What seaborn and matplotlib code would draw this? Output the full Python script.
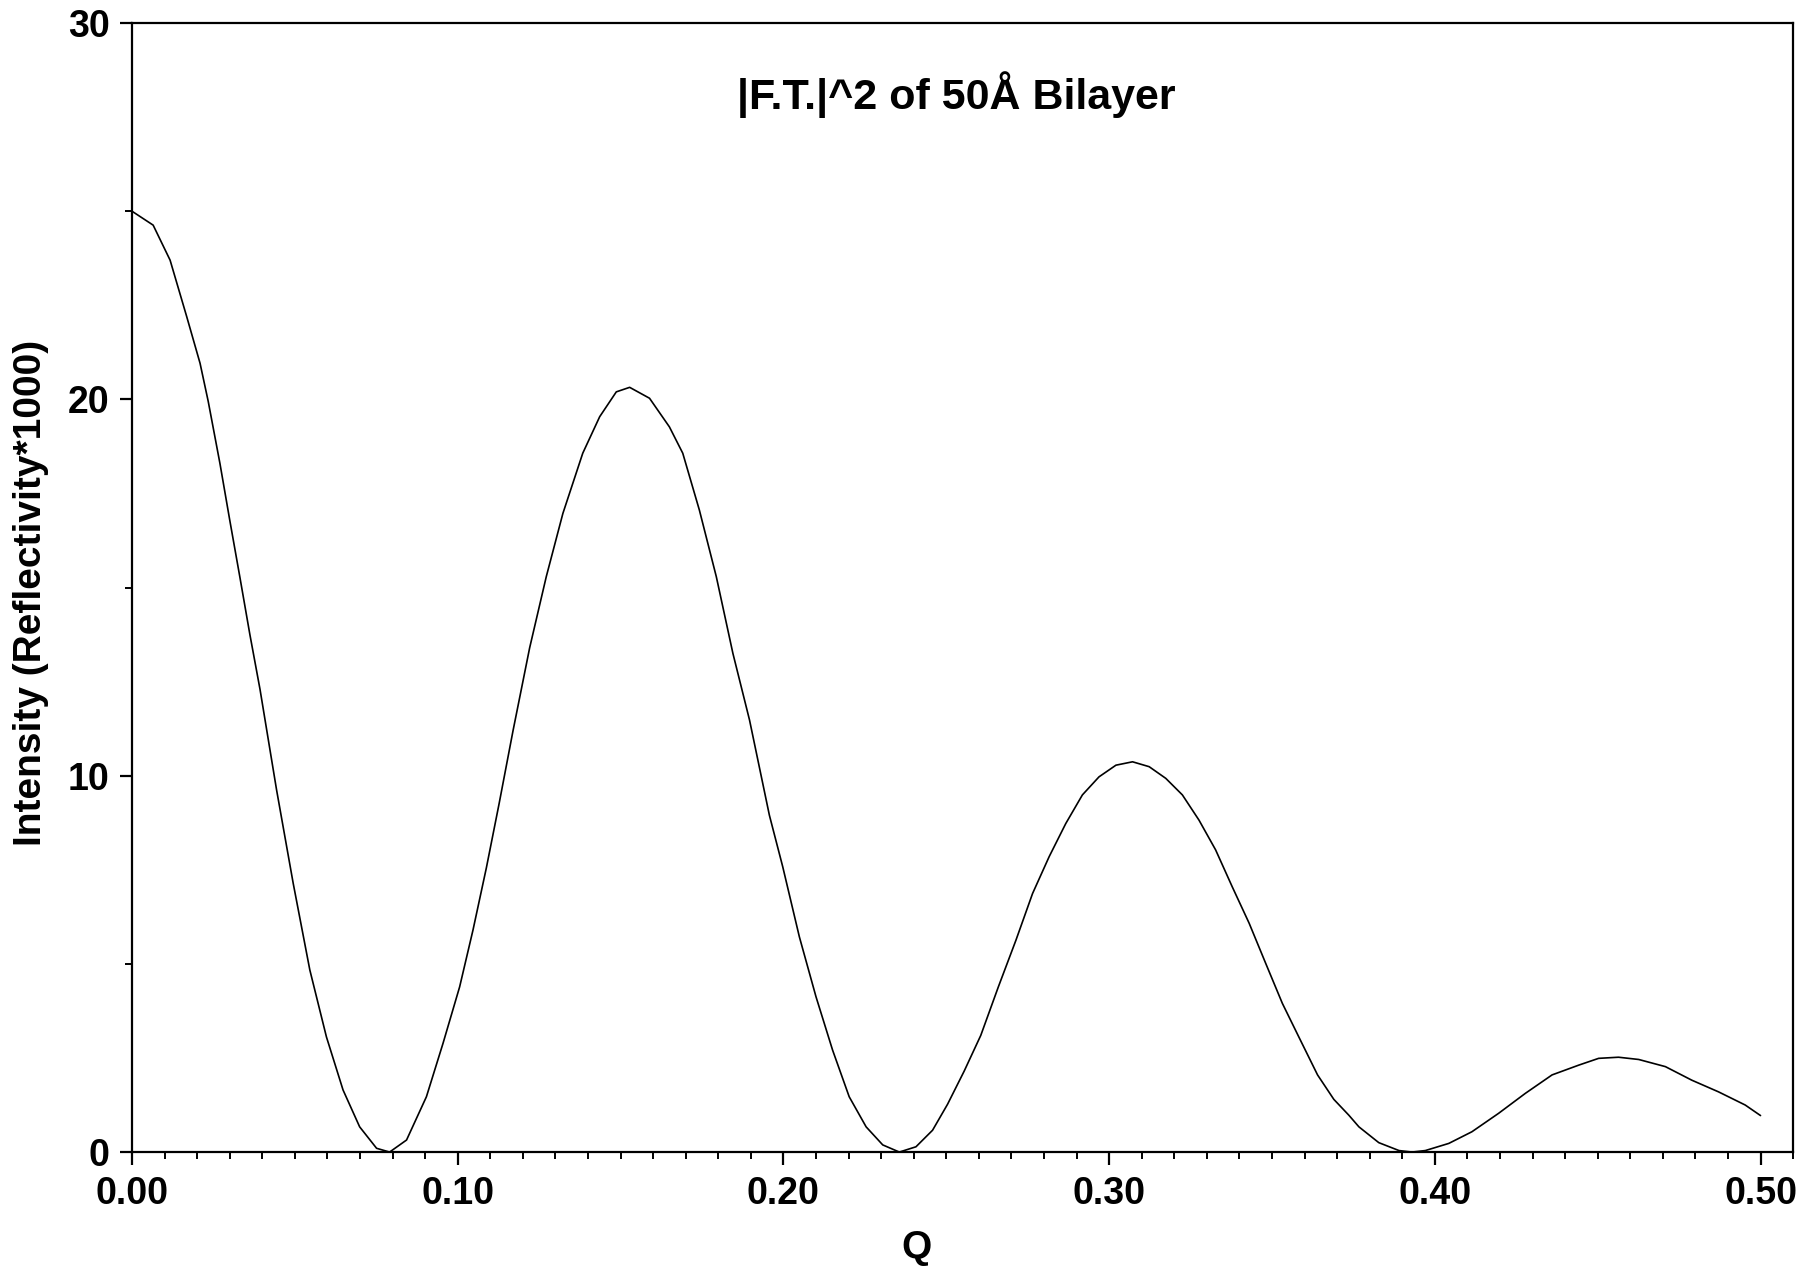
"""|F.T.|^2 of a 50A bilayer, redrawn with seaborn."""

import matplotlib
matplotlib.use("Agg")
import matplotlib.pyplot as plt
import pandas as pd
import seaborn as sns
from matplotlib.ticker import MultipleLocator, FormatStrFormatter

# values
q_values = [
    0.0000, 0.0065, 0.0117, 0.0168, 0.0209, 0.0234, 0.0270, 0.0300, 0.0331,
    0.0362, 0.0393, 0.0444, 0.0495, 0.0546, 0.0597, 0.0648, 0.0699, 0.0751,
    0.0791, 0.0843, 0.0904, 0.0955, 0.1006, 0.1047, 0.1088, 0.1127, 0.1170,
    0.1221, 0.1272, 0.1323, 0.1384, 0.1436, 0.1487, 0.1528, 0.1589, 0.1650,
    0.1691, 0.1742, 0.1794, 0.1845, 0.1896, 0.1957, 0.1998, 0.2049, 0.2100,
    0.2151, 0.2202, 0.2254, 0.2305, 0.2356, 0.2407, 0.2458, 0.2504, 0.2555,
    0.2606, 0.2660, 0.2714, 0.2765, 0.2816, 0.2867, 0.2918, 0.2969, 0.3021,
    0.3072, 0.3123, 0.3174, 0.3225, 0.3276, 0.3327, 0.3378, 0.3430, 0.3481,
    0.3532, 0.3583, 0.3640, 0.3690, 0.3736, 0.3767, 0.3828, 0.3890, 0.3930,
    0.3971, 0.4043, 0.4114, 0.4196, 0.4278, 0.4360, 0.4442, 0.4503, 0.4564,
    0.4626, 0.4708, 0.4789, 0.4871, 0.4953, 0.5000,
]
intensity = [
    25.00, 24.63, 23.70, 22.20, 20.96, 19.95, 18.30, 16.80, 15.29,
    13.75, 12.30, 9.62, 7.14, 4.84, 3.06, 1.65, 0.67, 0.10,
    0.00, 0.32, 1.47, 2.89, 4.39, 5.90, 7.55, 9.25, 11.20,
    13.40, 15.29, 16.97, 18.57, 19.54, 20.20, 20.32, 20.03, 19.27,
    18.57, 17.06, 15.29, 13.25, 11.48, 8.95, 7.58, 5.72, 4.13,
    2.71, 1.47, 0.67, 0.19, 0.00, 0.14, 0.58, 1.27, 2.15,
    3.10, 4.39, 5.63, 6.87, 7.85, 8.73, 9.49, 9.97, 10.28,
    10.37, 10.24, 9.93, 9.49, 8.82, 8.03, 7.05, 6.08, 5.01,
    3.95, 3.05, 2.05, 1.40, 0.98, 0.67, 0.25, 0.04, 0.00,
    0.04, 0.23, 0.54, 1.03, 1.56, 2.05, 2.31, 2.49, 2.52,
    2.46, 2.27, 1.91, 1.60, 1.25, 0.97,
]

title = "|F.T.|^2 of 50Å Bilayer"
x_label = "Q"
y_label = "Intensity (Reflectivity*1000)"

sns.set_style("ticks")
plt.rcParams["font.family"] = ["Liberation Sans", "DejaVu Sans"]
plt.rcParams["font.weight"] = "bold"
plt.rcParams["text.color"] = "black"
plt.rcParams["axes.labelcolor"] = "black"

df = pd.DataFrame({"Q": q_values, "I": intensity})

fig = plt.figure(figsize=(18.03, 12.66), dpi=100)
ax = fig.add_axes([0.0732, 0.0900, 0.9213, 0.8918])

sns.lineplot(data=df, x="Q", y="I", ax=ax, color="black", linewidth=1.2,
             sort=False)

ax.set_xlim(0, 0.51)
ax.set_ylim(0, 30)
ax.xaxis.set_major_locator(MultipleLocator(0.10))
ax.xaxis.set_minor_locator(MultipleLocator(0.01))
ax.xaxis.set_major_formatter(FormatStrFormatter("%.2f"))
ax.yaxis.set_major_locator(MultipleLocator(10))
ax.yaxis.set_minor_locator(MultipleLocator(5))

for side in ["top", "right", "bottom", "left"]:
    ax.spines[side].set_visible(True)
    ax.spines[side].set_linewidth(1.6)
    ax.spines[side].set_color("black")

ax.tick_params(axis="both", which="major", length=9, width=1.6,
               labelsize=27, colors="black", direction="out")
ax.tick_params(axis="both", which="minor", length=5, width=1.4,
               colors="black", direction="out")
ax.tick_params(axis="x", which="major", pad=8)
ax.tick_params(axis="y", which="major", pad=7)

ax.set_xlabel(x_label, fontsize=28, fontweight="bold", color="black")
ax.set_ylabel(y_label, fontsize=28, fontweight="bold", color="black")
ax.xaxis.set_label_coords(0.472, -0.069)
ax.yaxis.set_label_coords(-0.050, 0.495)

ax.text(0.496, 0.937, title, transform=ax.transAxes, ha="center",
        va="center", fontsize=31, fontweight="bold", color="black")

fig.savefig("out.png", dpi=100, facecolor="white")
